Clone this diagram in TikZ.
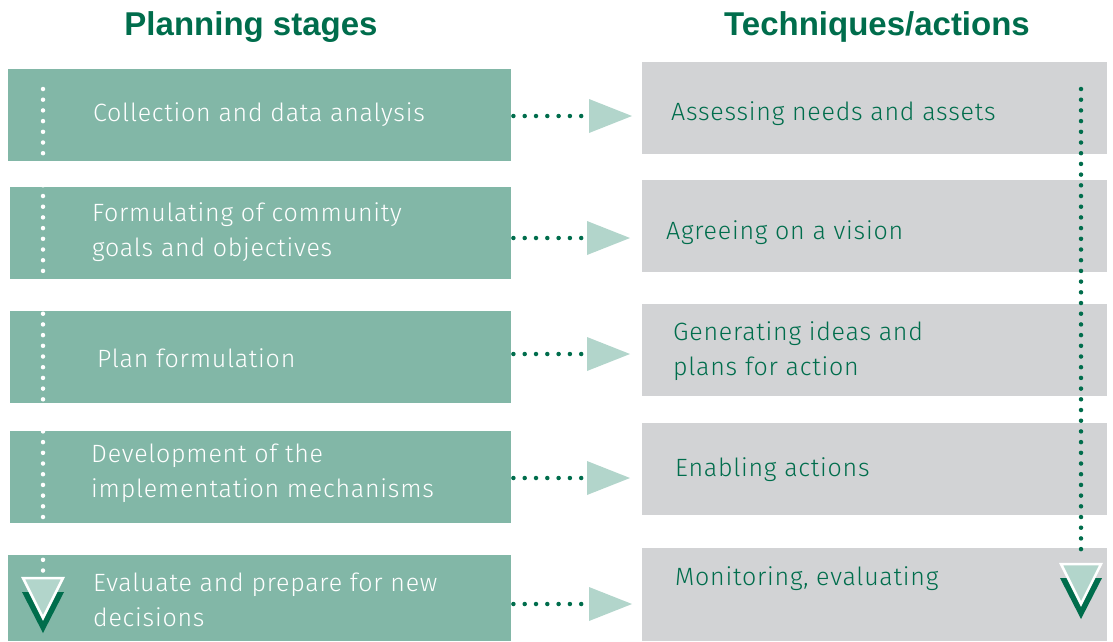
\documentclass[tikz,border=0pt]{standalone}
\usepackage{fontspec}
\setmainfont[LetterSpace=3.0]{Fira Sans Light}
\newfontfamily\headfont{Liberation Sans}
\usepackage{tikz}
\usepackage{xcolor}

\definecolor{stagegreen}{HTML}{82B7A7}
\definecolor{techgrey}{HTML}{D2D3D5}
\definecolor{darkgreen}{HTML}{006D4C}
\definecolor{palegreen}{HTML}{B2D5CB}

\tikzset{
	stagebox/.style={fill=stagegreen, anchor=north west, inner sep=0pt, minimum width=503pt, minimum height=92pt},
	techbox/.style={fill=techgrey, anchor=north west, inner sep=0pt, minimum width=465pt, minimum height=92pt},
	stagetext/.style={anchor=west, inner sep=0pt, yshift=-2.5pt, align=left, text=white, font=\fontsize{25}{35}\selectfont},
	techtext/.style={anchor=west, inner sep=0pt, yshift=-2.5pt, align=left, text=darkgreen, font=\fontsize{25}{35}\selectfont},
	headtext/.style={inner sep=0pt, text=darkgreen, font=\headfont\bfseries\fontsize{33}{40}\selectfont},
	greendots/.style={darkgreen, line width=4.5pt, line cap=round, dash pattern=on 0pt off 11.3pt},
	whitedots/.style={white, line width=4.5pt, line cap=round, dash pattern=on 0pt off 10.7pt},
	vgreendots/.style={greendots, dash pattern=on 0pt off 10.7pt}
}

\begin{document}
\begin{tikzpicture}[x=1pt,y=-1pt]
	\useasboundingbox (0,0) rectangle (1113,641);
	% headings
	\node[headtext] (h1) at (251,27) {Planning stages};
	\node[headtext] (h2) at (877,27) {Techniques/actions};
	% planning stages
	\node[stagebox] (s1) at (8,69) {};
	\node[stagebox, minimum width=501pt] (s2) at (10,187) {};
	\node[stagebox, minimum width=501pt] (s3) at (10,311) {};
	\node[stagebox, minimum width=501pt] (s4) at (10,431) {};
	\node[stagebox, minimum height=86pt] (s5) at (8,555) {};
	\node[stagetext] (s1t) at (93,112) {Collection and data analysis};
	\node[stagetext] (s2t) at (92,230) {Formulating of community\\goals and objectives};
	\node[stagetext] (s3t) at (97,356) {Plan formulation};
	\node[stagetext] (s4t) at (91,471) {Development of the\\implementation mechanisms};
	\node[stagetext] (s5t) at (93,597) {Evaluate and prepare for new\\decisions};
	% techniques
	\node[techbox] (t1) at (642,62) {};
	\node[techbox] (t2) at (642,180) {};
	\node[techbox] (t3) at (642,304) {};
	\node[techbox] (t4) at (642,423) {};
	\node[techbox, minimum height=93pt] (t5) at (642,548) {};
	\node[techtext] (t1t) at (671,111) {Assessing needs and assets};
	\node[techtext] (t2t) at (666,230) {Agreeing on a vision};
	\node[techtext] (t3t) at (673,349) {Generating ideas and\\plans for action};
	\node[techtext] (t4t) at (675,467) {Enabling actions};
	\node[techtext] (t5t) at (675,576) {Monitoring, evaluating};
	% links between the columns
	\coordinate (a1) at (589,116);
	\coordinate (a2) at (587,238);
	\coordinate (a3) at (587,354);
	\coordinate (a4) at (587,478);
	\coordinate (a5) at (589,604);
	\foreach \Row in {1,2,3,4,5}{
		\draw[greendots] ([xshift=2pt]s\Row.east |- a\Row) -- ([xshift=-4pt]a\Row);
		\fill[palegreen] (a\Row) -- ++(0,-17) -- ++(43,17) -- ++(-43,17) -- cycle;
	}
	% vertical flows
	\coordinate (lstart) at (43,89);
	\coordinate (lend) at (43,577);
	\coordinate (rstart) at (1081,89);
	\coordinate (rend) at (1081,563);
	\draw[whitedots] (lstart) -- ([yshift=4pt]lend);
	\draw[vgreendots] (rstart) -- ([yshift=4pt]rend);
	\foreach \End in {lend,rend}{
		\fill[darkgreen] ([yshift=-15pt]\End) -- ++(-21,0) -- ++(21,41) -- ++(21,-41) -- cycle;
		\filldraw[fill=palegreen, draw=white, line width=2.5pt, line join=miter] ([yshift=-1pt]\End) -- ++(-20,0) -- ++(20,40) -- ++(20,-40) -- cycle;
	}
\end{tikzpicture}
\end{document}
